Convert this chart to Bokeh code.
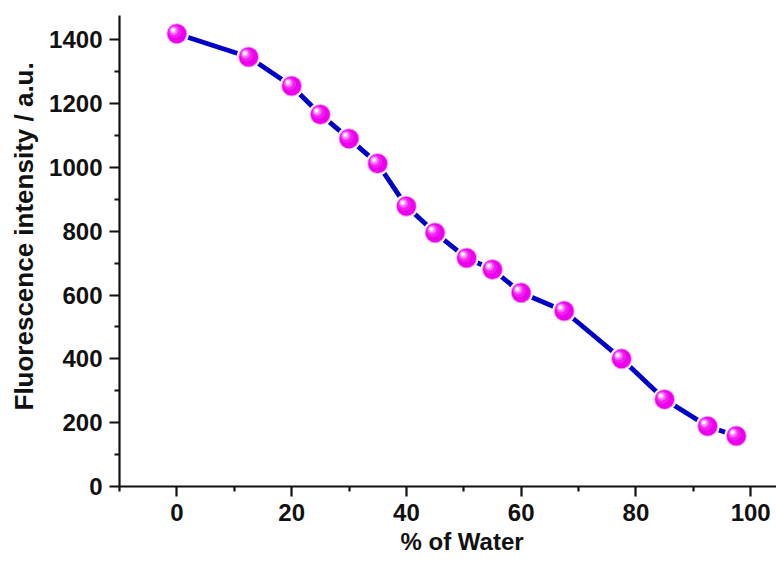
import math
from bokeh.plotting import figure
from bokeh.models import Range1d, Title, FixedTicker
from bokeh.embed import file_html
from bokeh.resources import INLINE

# ---- data ----
water_pct = [0, 12.5, 20, 25, 30, 35, 40, 45, 50.5, 55, 60, 67.5, 77.5, 85, 92.5, 97.5]
intensity = [1419, 1346, 1255, 1166, 1090, 1012, 878, 795, 716, 680, 607, 550, 400, 273, 189, 158]
x_major = [0, 20, 40, 60, 80, 100]
x_minor = [-10, 10, 30, 50, 70, 90]
y_major = [0, 200, 400, 600, 800, 1000, 1200, 1400]
y_minor = [100, 300, 500, 700, 900, 1100, 1300]
x_label = "% of Water"
y_label = "Fluorescence intensity / a.u."

# ---- layout ----
W, H = 776, 561
L, R, T, B = 119, 0, 15, 75
X0, X1 = -10, 104.5
Y0, Y1 = 0, 1476
FONT = "Liberation Sans"

p = figure(width=W, height=H, x_range=Range1d(X0, X1), y_range=Range1d(Y0, Y1),
           output_backend="svg", toolbar_location=None,
           min_border_left=L, min_border_right=R, min_border_top=T, min_border_bottom=B)
p.outline_line_color = None
p.xgrid.visible = False
p.ygrid.visible = False
p.background_fill_color = "white"
p.border_fill_color = "white"

p.xaxis.ticker = FixedTicker(ticks=x_major, minor_ticks=x_minor)
p.yaxis.ticker = FixedTicker(ticks=y_major, minor_ticks=y_minor)
for ax in (p.xaxis, p.yaxis):
    ax.axis_line_width = 2.2
    ax.axis_line_color = "#111111"
    ax.major_tick_line_width = 2.2
    ax.minor_tick_line_width = 2.2
    ax.major_tick_line_color = "#111111"
    ax.minor_tick_line_color = "#111111"
    ax.major_tick_in = 0
    ax.major_tick_out = 10
    ax.minor_tick_in = 0
    ax.minor_tick_out = 5
    ax.major_label_text_font = FONT
    ax.major_label_text_font_style = "bold"
    ax.major_label_text_font_size = "24px"
    ax.major_label_text_color = "#111111"
p.yaxis.major_label_standoff = 7
p.xaxis.major_label_standoff = 7

# line
p.line(water_pct, intensity, line_color="#0000c8", line_width=4.8)

# spherical markers
pxx = (X1 - X0) / (W - L - R)
pxy = (Y1 - Y0) / (H - T - B)
p.scatter(water_pct, intensity, size=24, fill_color="white", line_color=None)
p.scatter(water_pct, intensity, size=21, fill_color="#f4a4f4", line_color=None)
p.scatter(water_pct, intensity, size=19, fill_color="#ec00ec", line_color=None)
layers = [(13, 2.0, "#f41cf4"), (9, 3.0, "#f65ef6"), (6, 3.5, "#faa8fa"), (3.5, 3.8, "#ffffff")]
for sz, off, col in layers:
    hx = [v - off * pxx for v in water_pct]
    hy = [v + off * pxy for v in intensity]
    p.scatter(hx, hy, size=sz, fill_color=col, line_color=None)

# axis labels as side titles
p.add_layout(Title(text=x_label, align="left", offset=281, vertical_align="middle",
                   standoff=7, text_font=FONT, text_font_style="bold",
                   text_font_size="24px", text_color="#111111"), "below")
p.add_layout(Title(text=y_label, align="left", offset=76, vertical_align="middle",
                   standoff=14, text_font=FONT, text_font_style="bold",
                   text_font_size="26px", text_color="#111111"), "left")

open("out.html", "w").write(file_html(p, INLINE))
